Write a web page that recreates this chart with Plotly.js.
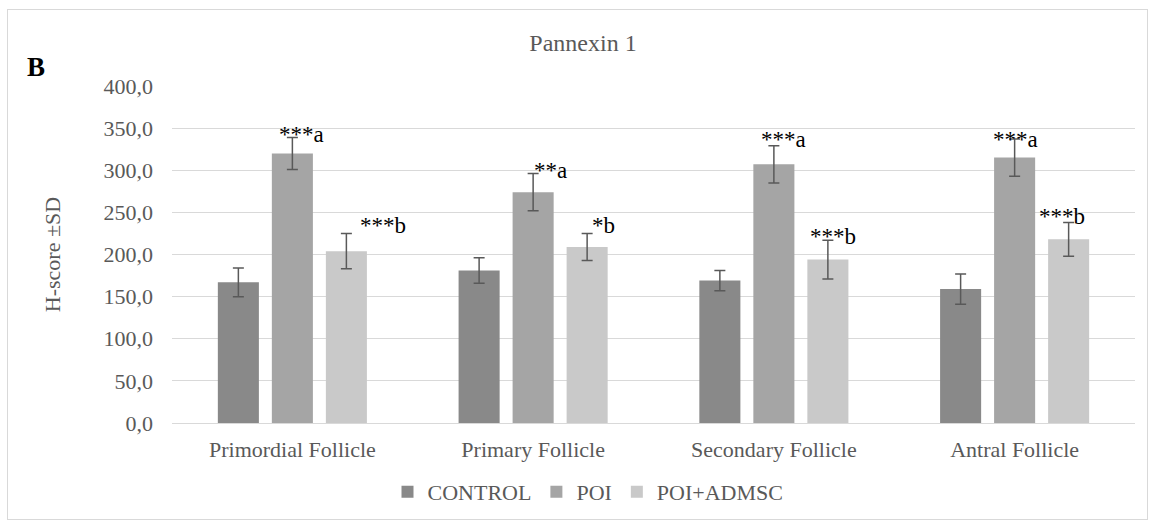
<!DOCTYPE html>
<html>
<head>
<meta charset="utf-8">
<script src="https://cdn.plot.ly/plotly-3.0.1.min.js"></script>
<style>
html,body{margin:0;padding:0;background:#fff;}
#wrap{position:relative;width:1155px;height:527px;}
#chart{position:absolute;left:0;top:0;width:1155px;height:527px;}
#frame{position:absolute;left:7px;top:9px;width:1139px;height:509px;border:1.5px solid #d9d9d9;pointer-events:none;}
</style>
</head>
<body>
<div id="wrap"><div id="chart"></div><div id="frame"></div></div>
<script>
// ---- data ----
const categories = ['Primordial Follicle', 'Primary Follicle', 'Secondary Follicle', 'Antral Follicle'];
const seriesNames = ['CONTROL', 'POI', 'POI+ADMSC'];
const controlMean = [167, 181, 169, 159];
const controlSD   = [17, 15, 12, 18];
const poiMean     = [320, 274, 307, 315];
const poiSD       = [19, 22, 22, 22];
const admscMean   = [204, 209, 194, 218];
const admscSD     = [21, 16, 23, 20];
const poiLabels   = ['***a', '**a', '***a', '***a'];
const admscLabels = ['***b', '*b', '***b', '***b'];
const yTickVals   = [0, 50, 100, 150, 200, 250, 300, 350, 400];

// ---- layout geometry ----
const W = 1155, H = 527;
const L = 172, R = 20, T = 86, B = 104;
const pw = W - L - R, ph = H - T - B;
const px2x = p => (p - L) / pw;
const px2y = p => (H - B - p) / ph;

const colors = ['#898989', '#a5a5a5', '#c9c9c9'];
const errColor = '#595959';
const textColor = '#595959';
const fontFam = '"Liberation Serif", "Times New Roman", Times, serif';
const fs = 22;

function barTrace(name, y, sd, color) {
  return {
    type: 'bar', name: name, x: categories, y: y,
    marker: {color: color},
    error_y: {type: 'data', array: sd, visible: true, color: errColor, thickness: 1.5, width: 5.5},
    hoverinfo: 'none'
  };
}
const traces = [
  barTrace(seriesNames[0], controlMean, controlSD, colors[0]),
  barTrace(seriesNames[1], poiMean, poiSD, colors[1]),
  barTrace(seriesNames[2], admscMean, admscSD, colors[2])
];

// label placement (pixel shifts from group center, value offsets above error bar)
const poiXShift   = [-15, -1, -15, -24];
const poiYOff     = [4, 4, 7, -1];
const admscXShift = [66, 57, 34, 22];
const admscYOff   = [10, 10, 4, 7];

const annotations = [];
categories.forEach((c, i) => {
  annotations.push({
    x: c, y: poiMean[i] + poiSD[i] + poiYOff[i], xref: 'x', yref: 'y',
    text: poiLabels[i], showarrow: false, xanchor: 'left', yanchor: 'middle',
    xshift: poiXShift[i], font: {family: fontFam, size: 23, color: '#000'}
  });
  annotations.push({
    x: c, y: admscMean[i] + admscSD[i] + admscYOff[i], xref: 'x', yref: 'y',
    text: admscLabels[i], showarrow: false, xanchor: 'left', yanchor: 'middle',
    xshift: admscXShift[i], font: {family: fontFam, size: 23, color: '#000'}
  });
});
annotations.push({
  xref: 'paper', yref: 'paper', x: px2x(25), y: px2y(67), xanchor: 'left', yanchor: 'middle',
  text: '<b>B</b>', showarrow: false, font: {family: fontFam, size: 27, color: '#000'}
});

const layout = {
  width: W, height: H,
  margin: {l: L, r: R, t: T, b: B, pad: 0},
  paper_bgcolor: 'rgba(0,0,0,0)', plot_bgcolor: 'rgba(0,0,0,0)',
  separators: ', ',
  font: {family: fontFam, size: fs, color: textColor},
  title: {text: 'Pannexin 1', x: 583 / W, xref: 'container', y: 1 - 43 / H, yref: 'container',
          xanchor: 'center', yanchor: 'middle', font: {family: fontFam, size: 24, color: textColor}},
  barmode: 'group', bargap: 0.327, bargroupgap: 0.24,
  showlegend: true,
  legend: {orientation: 'h', x: px2x(588), xanchor: 'center', y: px2y(492), yanchor: 'middle',
           font: {family: fontFam, size: fs, color: textColor}, itemwidth: 30, traceorder: 'normal'},
  xaxis: {type: 'category', showgrid: false, showline: true, linecolor: '#d9d9d9', linewidth: 1,
          ticks: '', ticklabelstandoff: 7, tickfont: {family: fontFam, size: fs, color: textColor}, fixedrange: true},
  yaxis: {range: [0, 400], tickvals: yTickVals, tickformat: '.1f', showgrid: true, gridcolor: '#d9d9d9',
          gridwidth: 1, zeroline: false, showline: false, ticks: '', ticklabelstandoff: 18,
          tickfont: {family: fontFam, size: fs, color: textColor},
          title: {text: 'H-score ±SD', font: {family: fontFam, size: fs, color: textColor}, standoff: 36},
          fixedrange: true},
  annotations: annotations
};

Plotly.newPlot('chart', traces, layout, {displayModeBar: false, staticPlot: true});
</script>
</body>
</html>
